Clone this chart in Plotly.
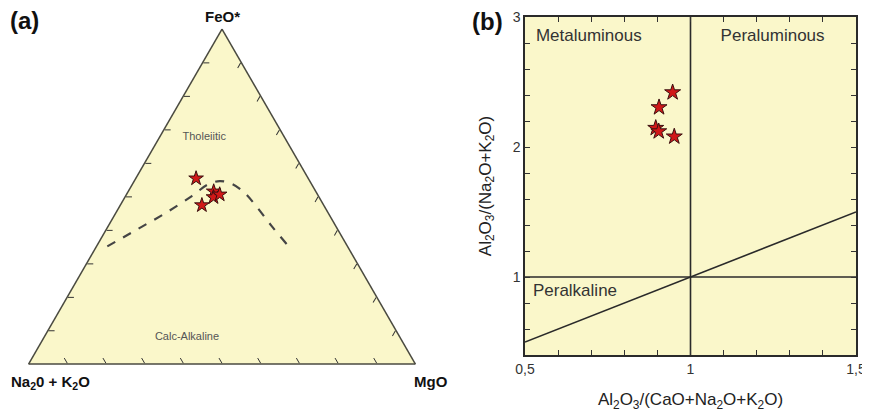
import plotly.graph_objects as go

# ---------------- Panel (a): AFM ternary data ----------------
afm_feo = [55.4, 51.5, 49.8, 50.6, 47.4]
afm_alk = [29.0, 26.4, 27.3, 25.3, 31.5]
afm_mgo = [15.6, 22.1, 22.9, 24.1, 21.1]

boundary_feo = [35.1, 40.3, 45.5, 50.2, 53.5, 54.6, 53.8, 51.3, 47.1, 41.3, 35.8]
boundary_alk = [62.1, 51.6, 41.2, 32.6, 27.0, 23.3, 20.6, 18.7, 17.6, 16.6, 15.4]
boundary_mgo = [2.8, 8.1, 13.3, 17.2, 19.5, 22.1, 25.6, 30.0, 35.3, 42.1, 48.8]

afm_fields = ["Tholeiitic", "Calc-Alkaline"]
afm_field_feo = [67.8, 8.1]
afm_field_alk = [20.7, 55.0]
afm_field_mgo = [11.5, 36.9]

afm_vertex_labels = ["FeO*", "Na<sub>2</sub>0 + K<sub>2</sub>O", "MgO"]

# ---------------- Panel (b): Shand index data ----------------
acnk = [0.946, 0.905, 0.895, 0.904, 0.951]
ank = [2.42, 2.305, 2.146, 2.12, 2.08]

vline_x = [1, 1]
vline_y = [0.4, 3]
hline_x = [0.5, 1.5]
hline_y = [1, 1]
diag_x = [0.5, 1.5]
diag_y = [0.5, 1.5]

b_fields = ["Metaluminous", "Peraluminous", "Peralkaline"]
b_field_x = [0.533, 1.248, 0.524]
b_field_y = [2.846, 2.846, 0.89]

x_tickvals = [0.5, 0.6, 0.7, 0.8, 0.9, 1.0, 1.1, 1.2, 1.3, 1.4, 1.5]
x_ticktext = ["0,5", "", "", "", "", "1", "", "", "", "", "1,5"]
y_tickvals = [0.4, 0.6, 0.8, 1.0, 1.2, 1.4, 1.6, 1.8, 2.0, 2.2, 2.4, 2.6, 2.8, 3.0]
y_ticktext = ["", "", "", "1", "", "", "", "", "2", "", "", "", "", "3"]

FONT = "Liberation Sans, Arial, sans-serif"
BG = "#FAF7CA"
STAR = "#D01818"
STAR_EDGE = "#3a1010"
LINE = "#2a2a2a"

W, H = 870, 416
OFF = 8  # page offset of the figure inside the browser window


def px_x(p):
    return (p - OFF) / W


def px_y(p):
    return 1 - (p - OFF) / H


fig = go.Figure()

# ---- ternary traces ----
fig.add_trace(go.Scatterternary(
    a=boundary_feo, b=boundary_alk, c=boundary_mgo, mode="lines",
    line=dict(color="#454545", width=2.2, dash="dash", shape="spline"),
    hoverinfo="skip", showlegend=False, subplot="ternary"))
fig.add_trace(go.Scatterternary(
    a=afm_feo, b=afm_alk, c=afm_mgo, mode="markers",
    marker=dict(symbol="star", size=11, color=STAR, line=dict(color=STAR_EDGE, width=1)),
    showlegend=False, subplot="ternary"))
fig.add_trace(go.Scatterternary(
    a=afm_field_feo, b=afm_field_alk, c=afm_field_mgo, mode="text",
    text=afm_fields, textfont=dict(family=FONT, size=11, color="#555555"),
    hoverinfo="skip", showlegend=False, subplot="ternary"))

# ---- panel (b) traces ----
for xs, ys in [(vline_x, vline_y), (hline_x, hline_y), (diag_x, diag_y)]:
    fig.add_trace(go.Scatter(x=xs, y=ys, mode="lines",
                             line=dict(color=LINE, width=1.6),
                             hoverinfo="skip", showlegend=False))
fig.add_trace(go.Scatter(
    x=acnk, y=ank, mode="markers",
    marker=dict(symbol="star", size=12, color=STAR, line=dict(color=STAR_EDGE, width=1)),
    showlegend=False))
fig.add_trace(go.Scatter(
    x=b_field_x, y=b_field_y, mode="text", text=b_fields,
    textposition=["middle right", "middle center", "middle right"],
    textfont=dict(family=FONT, size=17, color="#333333"),
    hoverinfo="skip", showlegend=False))

axis_common = dict(showticklabels=False, ticks="inside", ticklen=6, tickwidth=1.2,
                   dtick=10, tickcolor="#333333", linecolor="#4a4a40",
                   linewidth=1.5, showgrid=False, title=dict(text=""))

tern_h = 335
tern_w = tern_h * 2 / 3 ** 0.5
tern_cx = 222
tern_base = 364

vfont = dict(family=FONT, size=15, color="#111111")

fig.update_layout(
    width=W, height=H,
    margin=dict(l=0, r=0, t=0, b=0),
    paper_bgcolor="white",
    plot_bgcolor=BG,
    font=dict(family=FONT, color="#222222"),
    ternary=dict(
        sum=100, bgcolor=BG,
        domain=dict(x=[px_x(tern_cx - tern_w / 2), px_x(tern_cx + tern_w / 2)],
                    y=[px_y(tern_base), px_y(tern_base - tern_h)]),
        aaxis=axis_common, baxis=axis_common, caxis=axis_common,
    ),
    xaxis=dict(domain=[px_x(525), px_x(856)], range=[0.5, 1.5], automargin=False,
               tickvals=x_tickvals, ticktext=x_ticktext, ticks="inside", ticklen=5,
               ticklabeloverflow="allow",
               tickcolor="#333333", showline=True, linecolor=LINE, linewidth=1.5,
               mirror="ticks", showgrid=False, zeroline=False,
               tickfont=dict(family=FONT, size=14, color="#333333"),
               title=dict(text="Al<sub>2</sub>O<sub>3</sub>/(CaO+Na<sub>2</sub>O+K<sub>2</sub>O)",
                          font=dict(family=FONT, size=17, color="#222222"), standoff=18)),
    yaxis=dict(domain=[px_y(355), px_y(17)], range=[0.4, 3.0], automargin=False,
               tickvals=y_tickvals, ticktext=y_ticktext, ticks="inside", ticklen=5,
               ticklabeloverflow="allow",
               tickcolor="#333333", showline=True, linecolor=LINE, linewidth=1.5,
               mirror="ticks", showgrid=False, zeroline=False,
               tickfont=dict(family=FONT, size=14, color="#333333"),
               title=dict(text="Al<sub>2</sub>O<sub>3</sub>/(Na<sub>2</sub>O+K<sub>2</sub>O)",
                          font=dict(family=FONT, size=17, color="#222222"), standoff=17)),
    annotations=[
        dict(text="<b>(a)</b>", x=px_x(8), y=px_y(20), xref="paper", yref="paper",
             xanchor="left", yanchor="middle", showarrow=False,
             font=dict(family=FONT, size=24, color="#111111")),
        dict(text="<b>(b)</b>", x=px_x(470), y=px_y(21), xref="paper", yref="paper",
             xanchor="left", yanchor="middle", showarrow=False,
             font=dict(family=FONT, size=24, color="#111111")),
        dict(text="<b>" + afm_vertex_labels[0] + "</b>", x=px_x(tern_cx), y=px_y(16),
             xref="paper", yref="paper", xanchor="center", yanchor="middle",
             showarrow=False, font=vfont),
        dict(text="<b>" + afm_vertex_labels[1] + "</b>", x=px_x(9), y=px_y(382),
             xref="paper", yref="paper", xanchor="left", yanchor="middle",
             showarrow=False, font=vfont),
        dict(text="<b>" + afm_vertex_labels[2] + "</b>", x=px_x(431), y=px_y(381),
             xref="paper", yref="paper", xanchor="center", yanchor="middle",
             showarrow=False, font=vfont),
    ],
)

fig.write_html("out.html")
